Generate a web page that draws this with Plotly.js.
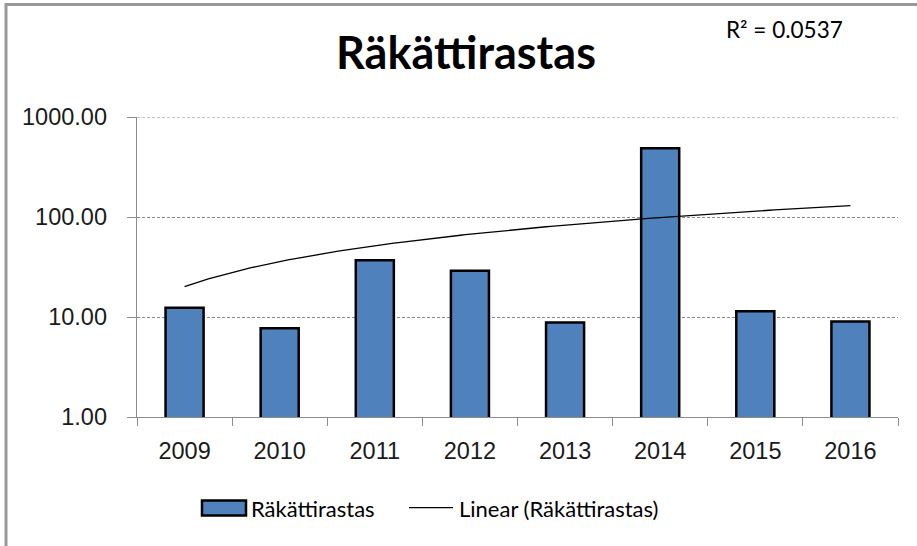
<!DOCTYPE html>
<html>
<head>
<meta charset="utf-8">
<script src="https://cdn.plot.ly/plotly-3.0.1.min.js"></script>
<style>
  html, body { margin: 0; padding: 0; background: #fff; }
  #chart { width: 917px; height: 546px; }
</style>
</head>
<body>
<div id="chart"></div>
<script>
// ---- data ----
const categories = ['2009', '2010', '2011', '2012', '2013', '2014', '2015', '2016'];
const values = [12.4, 7.7, 36.9, 29.0, 8.8, 486, 11.4, 9.0];
const yTickVals = [1, 10, 100, 1000];
const yTickText = ['1.00', '10.00', '100.00', '1000.00'];
const seriesName = 'Räkättirastas';
const trendName = 'Linear (Räkättirastas)';
const titleText = 'Räkättirastas';
const r2Text = 'R² = 0.0537';

// ---- linear trendline (least squares on category index, like Excel) ----
const n = values.length;
const idx = values.map((_, i) => i);
const mx = idx.reduce((a, b) => a + b, 0) / n;
const my = values.reduce((a, b) => a + b, 0) / n;
let sxy = 0, sxx = 0;
for (let i = 0; i < n; i++) { sxy += (idx[i] - mx) * (values[i] - my); sxx += (idx[i] - mx) ** 2; }
const slope = sxy / sxx;
const intercept = my - slope * mx;
const steps = 140;
const trendX = [], trendY = [];
for (let k = 0; k <= steps; k++) {
  const xv = (n - 1) * k / steps;
  trendX.push(xv);
  trendY.push(intercept + slope * xv);
}

// ---- geometry helpers (pixel -> paper) ----
const W = 917, H = 546;
const L = 137, R = 898, T = 117, B = 417;
const px = p => (p - L) / (R - L);
const py = p => (B - p) / (B - T);

const calib = 'Lato, "Open Sans", sans-serif';
const tickFont = { family: '"Liberation Sans", Arial, sans-serif', size: 23.5, color: '#1a1a1a' };

const traces = [
  {
    type: 'bar',
    name: seriesName,
    x: categories,
    y: values,
    width: 0.4,
    marker: { color: '#4F81BD', line: { color: '#000', width: 2.5 } },
    showlegend: false,
    hoverinfo: 'x+y'
  },
  {
    type: 'scatter',
    mode: 'lines',
    name: trendName,
    x: trendX,
    y: trendY,
    xaxis: 'x2',
    yaxis: 'y',
    line: { color: '#000', width: 1.3 },
    showlegend: false,
    hoverinfo: 'skip'
  }
];

const grey = '#8c8c8c';
const layout = {
  width: W, height: H,
  margin: { l: L, r: W - R, t: T, b: H - B, pad: 0 },
  paper_bgcolor: '#fff',
  plot_bgcolor: '#fff',
  showlegend: false,
  title: {
    text: '<b>' + titleText + '</b>',
    font: { family: calib, size: 45, color: '#000' },
    xref: 'paper', x: px(466), xanchor: 'center',
    yref: 'container', y: 1 - 53 / H, yanchor: 'middle'
  },
  xaxis: {
    type: 'category',
    range: [-0.5, n - 0.5],
    tickson: 'boundaries',
    ticks: 'outside', ticklen: 8, tickwidth: 1, tickcolor: grey,
    showline: true, linecolor: grey, linewidth: 1.3,
    showgrid: false, zeroline: false,
    tickfont: tickFont,
    ticklabelstandoff: 12,
    fixedrange: true
  },
  xaxis2: {
    overlaying: 'x',
    range: [-0.5, n - 0.5],
    visible: false,
    fixedrange: true
  },
  yaxis: {
    type: 'log',
    range: [0, 3],
    tickvals: yTickVals,
    ticktext: yTickText,
    ticks: 'outside', ticklen: 9, tickwidth: 1, tickcolor: grey,
    showline: true, linecolor: grey, linewidth: 1.3,
    showgrid: true, gridcolor: '#8a8a8a', gridwidth: 1, griddash: '3px,2px',
    zeroline: false,
    tickfont: tickFont,
    ticklabelstandoff: 15,
    fixedrange: true
  },
  shapes: [
    // top gridline at the axis maximum (1000)
    { type: 'line', xref: 'paper', yref: 'y', x0: 0, x1: 1, y0: 1000, y1: 1000, line: { color: '#8a8a8a', width: 1, dash: '3px,2px' }, layer: 'below' },
    // outer frame (top and left)
    { type: 'line', xref: 'paper', yref: 'paper', x0: px(5), x1: px(917), y0: py(4.5), y1: py(4.5), line: { color: '#999', width: 3 } },
    { type: 'line', xref: 'paper', yref: 'paper', x0: px(6), x1: px(6), y0: py(3), y1: py(546), line: { color: '#999', width: 3 } },
    // legend symbols
    { type: 'rect', xref: 'paper', yref: 'paper', x0: px(202), x1: px(246), y0: py(500.5), y1: py(515.5), fillcolor: '#4F81BD', line: { color: '#000', width: 2.5 } },
    { type: 'line', xref: 'paper', yref: 'paper', x0: px(409), x1: px(453), y0: py(507.7), y1: py(507.7), line: { color: '#000', width: 1.3 } }
  ],
  annotations: [
    { text: seriesName, xref: 'paper', yref: 'paper', x: px(249), y: py(508.5), xanchor: 'left', yanchor: 'middle', showarrow: false, font: { family: calib, size: 22, color: '#000' } },
    { text: trendName, xref: 'paper', yref: 'paper', x: px(457), y: py(508.5), xanchor: 'left', yanchor: 'middle', showarrow: false, font: { family: calib, size: 22, color: '#000' } },
    { text: r2Text, xref: 'paper', yref: 'paper', x: px(724), y: py(30), xanchor: 'left', yanchor: 'middle', showarrow: false, font: { family: calib, size: 22.5, color: '#000' } }
  ]
};

Plotly.newPlot('chart', traces, layout, { displayModeBar: false, staticPlot: true });
</script>
</body>
</html>
